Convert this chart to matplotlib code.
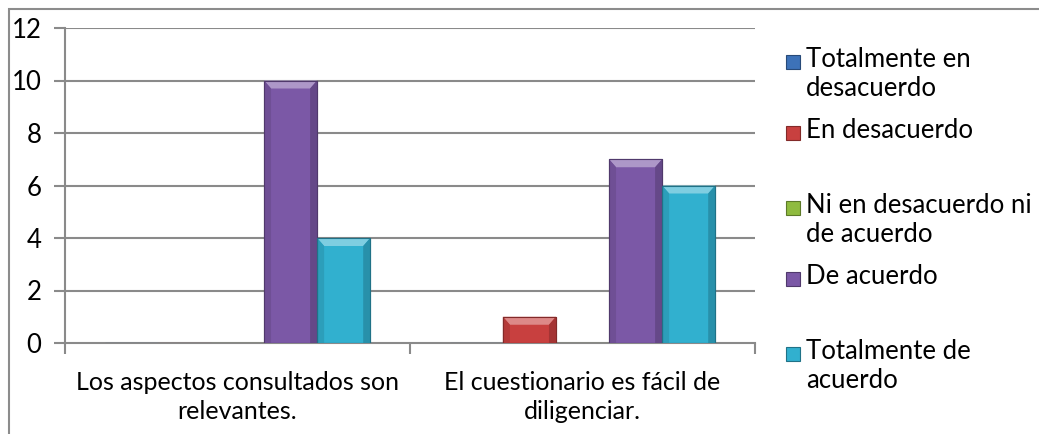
import matplotlib
matplotlib.use("Agg")
import matplotlib.pyplot as plt
from matplotlib.patches import Polygon, Rectangle
from matplotlib.colors import to_rgb
import numpy as np

plt.rcParams['font.family'] = ['Lato', 'DejaVu Sans']

categories = ["Los aspectos consultados son\nrelevantes.",
              "El cuestionario es fácil de\ndiligenciar."]
series_names = ["Totalmente en\ndesacuerdo", "En desacuerdo",
                "Ni en desacuerdo ni\nde acuerdo", "De acuerdo",
                "Totalmente de\nacuerdo"]
values = [
    [0, 0],   # Totalmente en desacuerdo
    [0, 1],   # En desacuerdo
    [0, 0],   # Ni en desacuerdo ni de acuerdo
    [10, 7],  # De acuerdo
    [4, 6],   # Totalmente de acuerdo
]
colors = ["#3d72b8", "#c8403f", "#8fbb3f", "#7b58a6", "#31b0cf"]
y_ticks = [0, 2, 4, 6, 8, 10, 12]

W, H = 1039, 434
fig = plt.figure(figsize=(W / 100, H / 100), dpi=100)
fig.patch.set_facecolor("white")

# outer chart frame
frame = Rectangle((9 / W, -0.05), 1.2, (H - 9) / H + 0.05, transform=fig.transFigure,
                  fill=False, edgecolor="#8c8c8c", linewidth=1.5)
fig.add_artist(frame)

ax = fig.add_axes([65 / W, 1 - 343 / H, 690 / W, 315 / H])
ax.set_xlim(-0.5, 1.5)
ax.set_ylim(0, 12)

grid_color = "#8a8a8a"
for t in y_ticks[1:]:
    ax.axhline(t, color=grid_color, linewidth=1.5, zorder=0)

for s in ["top", "right"]:
    ax.spines[s].set_visible(False)
for s in ["left", "bottom"]:
    ax.spines[s].set_color(grid_color)
    ax.spines[s].set_linewidth(1.5)

ax.set_yticks(y_ticks)
ax.set_yticklabels([str(t) for t in y_ticks], fontsize=18.5)
ax.tick_params(axis="y", length=8, width=1.5, color=grid_color, pad=9)
ax.set_xticks([-0.5, 0.5, 1.5], minor=True)
ax.set_xticks([0, 1])
ax.set_xticklabels(categories, fontsize=18, linespacing=1.32)
ax.tick_params(axis="x", which="major", length=0, pad=20)
ax.tick_params(axis="x", which="minor", length=8, width=1.5, color=grid_color)

x = np.arange(len(categories))
bw = 1 / 6.5

def shade(c, f):
    r = np.array(to_rgb(c))
    if f >= 0:
        return tuple(r + (1 - r) * f)
    return tuple(r * (1 + f))

px_x = 1 / 345.0   # data units per pixel (x)
px_y = 12 / 315.0  # data units per pixel (y)

for i, (vals, col) in enumerate(zip(values, colors)):
    bars = ax.bar(x + (i - 2) * bw, vals, width=bw, color=col,
                  edgecolor=shade(col, -0.35), linewidth=0.8, zorder=3)
    for b in bars:
        h = b.get_height()
        if h <= 0:
            continue
        x0, x1 = b.get_x(), b.get_x() + b.get_width()
        bx, by = 7 * px_x, 8 * px_y
        by = min(by, h / 2)
        # bevel: lighter top, shaded sides
        ax.add_patch(Polygon([(x0, h), (x1, h), (x1 - bx, h - by), (x0 + bx, h - by)],
                             closed=True, facecolor=shade(col, 0.38), edgecolor="none", zorder=4))
        ax.add_patch(Polygon([(x0, 0), (x0, h), (x0 + bx, h - by), (x0 + bx, 0)],
                             closed=True, facecolor=shade(col, -0.1), edgecolor="none", zorder=4))
        ax.add_patch(Polygon([(x1, 0), (x1, h), (x1 - bx, h - by), (x1 - bx, 0)],
                             closed=True, facecolor=shade(col, -0.18), edgecolor="none", zorder=4))
        ax.add_patch(Rectangle((x0, 0), x1 - x0, h, fill=False,
                               edgecolor=shade(col, -0.35), linewidth=0.8, zorder=5))

# legend drawn as square markers with text
legend_marker_y = [62, 133, 208, 279, 354]
for name, col, my in zip(series_names, colors, legend_marker_y):
    sq = 14
    fig.add_artist(Rectangle((786 / W, 1 - (my + sq / 2) / H), sq / W, sq / H,
                             transform=fig.transFigure, facecolor=col,
                             edgecolor=shade(col, -0.35), linewidth=0.8))
    fig.text(806 / W, 1 - (my - 15) / H, name, fontsize=18.5, va="top", ha="left",
             linespacing=1.2)

fig.savefig("out.png", dpi=100)
